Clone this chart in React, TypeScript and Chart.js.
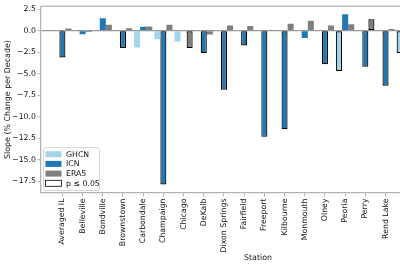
import React, { useEffect, useRef } from "react";
import { Chart, registerables } from "chart.js";

Chart.register(...registerables);

const stations = [
  "Averaged IL", "Belleville", "Bondville", "Brownstown", "Carbondale", "Champaign",
  "Chicago", "DeKalb", "Dixon Springs", "Fairfield", "Freeport", "Kilbourne",
  "Monmouth", "Olney", "Peoria", "Perry", "Rend Lake", "Springfield",
];

const ghcn = [null, null, null, null, -1.95, -1.0, -1.25, null, null, null, null, null, null, null, -4.67, null, null, -2.6];
const ghcnSig = [0, 0, 0, 0, 0, 0, 0, 0, 0, 0, 0, 0, 0, 0, 1, 0, 0, 1];

const icn = [-3.1, -0.4, 1.45, -2.0, 0.45, -17.85, null, -2.6, -6.85, -1.72, -12.33, -11.45, -0.85, -3.9, 1.9, -4.18, -6.4, null];
const icnSig = [1, 0, 0, 1, 0, 1, 0, 1, 1, 1, 1, 1, 0, 1, 0, 1, 1, 0];

const era5 = [0.25, -0.15, 0.7, 0.3, 0.5, 0.7, -2.0, -0.45, 0.6, 0.55, 0.05, 0.8, 1.15, 0.6, 0.75, 1.33, 0.2, null];
const era5Sig = [0, 0, 0, 0, 0, 0, 1, 0, 0, 0, 0, 0, 0, 0, 0, 1, 0, 0];

const yTicks = [2.5, 0, -2.5, -5, -7.5, -10, -12.5, -15, -17.5];
const seriesLabels = ["GHCN", "ICN", "ERA5"];
const sigLabel = "p \u2264 0.05";

const FONT = "'DejaVu Sans', sans-serif";
const SPINE = "#b3b3b3";

const fmt = (v: number) => {
  const s = Math.abs(v).toFixed(1);
  return v < 0 ? "\u2212" + s : s;
};

const toPoints = (vals: (number | null)[]) => vals.map((v, i) => ({ x: i, y: v }));

const spinePlugin = {
  id: "spines",
  afterDatasetsDraw(chart: any) {
    const { ctx, chartArea } = chart;
    ctx.save();
    ctx.strokeStyle = SPINE;
    ctx.lineWidth = 1.3;
    ctx.beginPath();
    ctx.moveTo(chartArea.left, chartArea.top);
    ctx.lineTo(chartArea.right, chartArea.top);
    ctx.lineTo(chartArea.right, chartArea.bottom);
    ctx.stroke();
    ctx.restore();
  },
};

const legendPlugin = {
  id: "mplLegend",
  afterDatasetsDraw(chart: any) {
    const { ctx, chartArea } = chart;
    const items = chart.data.datasets.map((d: any) => ({ label: d.label, fill: d.backgroundColor, stroke: null as string | null }));
    items.push({ label: sigLabel, fill: "#ffffff", stroke: "#000000" });
    const left = chartArea.left + 2;
    const bottom = chartArea.bottom - 3;
    const rowH = 9.7;
    const h = rowH * items.length + 4;
    const w = 56;
    const top = bottom - h;
    ctx.save();
    ctx.fillStyle = "rgba(255,255,255,0.85)";
    ctx.strokeStyle = "#d6d6d6";
    ctx.lineWidth = 1;
    ctx.beginPath();
    (ctx as any).roundRect(left + 0.5, top + 0.5, w, h, 2);
    ctx.fill();
    ctx.stroke();
    ctx.font = "7.8px " + FONT;
    ctx.textBaseline = "middle";
    ctx.textAlign = "left";
    items.forEach((it: any, i: number) => {
      const cy = top + 7 + i * rowH;
      ctx.fillStyle = it.fill;
      ctx.fillRect(left + 2.5, cy - 3, 16, 6);
      if (it.stroke) {
        ctx.strokeStyle = it.stroke;
        ctx.lineWidth = 0.8;
        ctx.strokeRect(left + 2.5, cy - 3, 16, 6);
      }
      ctx.fillStyle = "#111";
      ctx.fillText(it.label, left + 23, cy + 0.5);
    });
    ctx.restore();
  },
};

export default function App() {
  const ref = useRef<HTMLCanvasElement | null>(null);

  useEffect(() => {
    if (!ref.current) return;
    const mk = (label: string, vals: (number | null)[], sig: number[], color: string) => ({
      label,
      data: toPoints(vals),
      backgroundColor: color,
      borderColor: sig.map((s) => (s ? "#000" : color)),
      borderWidth: sig.map((s) => (s ? 1.2 : 0)),
      borderSkipped: false,
      categoryPercentage: 0.9,
      barPercentage: 1.0,
    });
    const chart = new Chart(ref.current, {
      type: "bar",
      data: {
        datasets: [
          mk(seriesLabels[0], ghcn, ghcnSig, "#a6d5ea"),
          mk(seriesLabels[1], icn, icnSig, "#1f77b4"),
          mk(seriesLabels[2], era5, era5Sig, "#7f7f7f"),
        ] as any,
      },
      options: {
        animation: false,
        responsive: false,
        layout: { padding: { left: 0, right: 5, top: 4.5, bottom: 0 } },
        plugins: { legend: { display: false }, tooltip: { enabled: false } },
        scales: {
          x: {
            type: "linear",
            offset: false,
            min: -1.06,
            max: 20.43,
            afterBuildTicks: (s: any) => {
              s.ticks = stations.map((_, i) => ({ value: i }));
            },
            afterFit: (s: any) => {
              s.height = 73;
            },
            ticks: {
              autoSkip: false,
              maxRotation: 90,
              minRotation: 90,
              padding: 2,
              color: "#111",
              font: { family: FONT, size: 7.8 },
              callback: (v: any) => stations[v as number] ?? "",
            },
            grid: { offset: false, drawOnChartArea: false, drawTicks: true, tickLength: 3.5, tickColor: SPINE, tickWidth: 1 },
            border: { display: true, color: SPINE, width: 1.3 },
            title: { display: true, text: "Station", color: "#111", font: { family: FONT, size: 7.9 }, padding: { top: 0, bottom: 3 } },
          },
          y: {
            min: -18.85,
            max: 2.85,
            afterBuildTicks: (s: any) => {
              s.ticks = yTicks.map((v) => ({ value: v }));
            },
            afterFit: (s: any) => {
              s.width = 41;
            },
            ticks: {
              padding: 1.5,
              color: "#111",
              font: { family: FONT, size: 7.8 },
              callback: (v: any) => fmt(v as number),
            },
            grid: {
              drawOnChartArea: true,
              color: (c: any) => (c.tick && c.tick.value === 0 ? "#999999" : "rgba(0,0,0,0)"),
              lineWidth: 1.3,
              drawTicks: true,
              tickLength: 3.5,
              tickColor: SPINE,
              tickWidth: 1,
            },
            border: { display: true, color: SPINE, width: 1.3 },
            title: {
              display: true,
              text: "Slope (% Change per Decade)",
              color: "#111",
              font: { family: FONT, size: 7.9 },
              padding: { top: 3, bottom: 0 },
            },
          },
        },
      } as any,
      plugins: [spinePlugin, legendPlugin],
    });
    return () => chart.destroy();
  }, []);

  return (
    <div style={{ position: "fixed", left: 0, top: 0, width: 400, height: 266, overflow: "hidden", background: "#fff" }}>
      <canvas ref={ref} width={480} height={266} style={{ display: "block" }} />
    </div>
  );
}
